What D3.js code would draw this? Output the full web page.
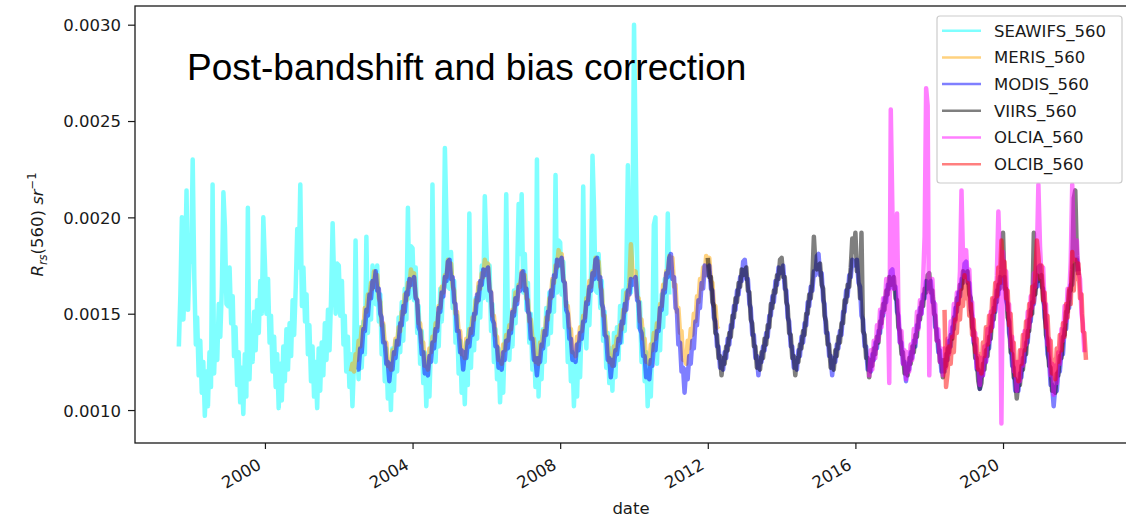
<!DOCTYPE html>
<html>
<head>
<meta charset="utf-8">
<script src="https://cdn.jsdelivr.net/npm/d3@7"></script>
<style>
body { margin: 0; background: #fff; }
svg { display: block; }
.axis text { font-family: "DejaVu Sans", sans-serif; font-size: 16.5px; fill: #1a1a1a; }
.axis line { stroke: #1a1a1a; stroke-width: 1.2; }
</style>
</head>
<body>
<script>
// values are R_rs(560) in units of 1e-5 sr^-1, sampled on the 1st and 16th of each month
const UNIT = 1e-5;

const seriesNames = ["SEAWIFS_560", "MERIS_560", "MODIS_560", "VIIRS_560", "OLCIA_560", "OLCIB_560"];
const seriesColors = ["#00ffff", "#ffa500", "#0000ff", "#000000", "#ff00ff", "#ff0000"];

// first sample of each series: [year, month, half (0 = 1st, 1 = 16th)]
const seawifsStart = [1997, 9, 0];
const merisStart = [2002, 5, 0];
const modisStart = [2002, 7, 0];
const viirsStart = [2012, 1, 0];
const olciaStart = [2016, 5, 1];
const olcibStart = [2018, 6, 0];

const seawifs = [
  133, 160, 200, 147, 171, 214, 152, 178,
  177, 230, 168, 134, 148, 118, 136, 109, 125, 97, 120, 102, 130, 112, 217, 119, 143, 126, 155, 138, 164, 213, 195, 155,
  154, 174, 145, 159, 128, 143, 113, 130, 104, 122, 98, 129, 107, 205, 116, 144, 125, 151, 131, 157, 140, 167, 150, 200,
  176, 150, 168, 135, 149, 120, 138, 112, 129, 101, 124, 105, 133, 115, 142, 121, 145, 128, 157, 139, 164, 194, 174, 217,
  154, 174, 146, 160, 129, 144, 115, 133, 107, 125, 101, 132, 110, 135, 118, 145, 126, 152, 131, 157, 197, 167, 150, 176,
  175, 149, 167, 134, 149, 120, 138, 112, 129, 102, 125, 188, 134, 116, 143, 122, 146, 129, 190, 140, 165, 147, 175, 156,
  155, 175, 146, 160, 129, 144, 115, 132, 106, 124, 100, 132, 110, 136, 120, 148, 130, 156, 136, 163, 147, 205, 158, 185,
  184, 157, 174, 140, 154, 124, 141, 114, 130, 102, 125, 107, 135, 217, 146, 125, 150, 133, 163, 146, 172, 236, 200, 164,
  163, 182, 153, 167, 135, 149, 119, 136, 109, 127, 103, 135, 113, 202, 122, 150, 131, 158, 137, 164, 148, 175, 158, 211,
  184, 157, 175, 141, 155, 125, 142, 116, 132, 104, 127, 109, 137, 212, 147, 126, 150, 133, 162, 145, 171, 207, 181, 212,
  161, 181, 152, 166, 135, 150, 121, 138, 112, 230, 107, 138, 116, 142, 125, 153, 134, 161, 140, 167, 151, 222, 161, 188,
  187, 160, 177, 143, 156, 125, 142, 115, 130, 102, 125, 107, 135, 117, 145, 216, 149, 132, 162, 144, 170, 232, 205, 162,
  161, 181, 153, 167, 136, 151, 122, 140, 114, 132, 110, 140, 117, 143, 126, 154, 135, 162, 141, 168, 227, 178, 161, 188,
  300, 240, 177, 143, 156, 125, 142, 115, 130, 102, 125, 107, 135, 196, 200, 124, 148, 131, 160, 143, 168, 150, 202, 160
];

const meris = [
  120, 124, 120, 129, 126, 136, 133, 143, 142, 153, 151, 160, 158, 166, 163, 172,
  168, 170, 158, 156, 144, 145, 135, 135, 123, 124, 121, 131, 129, 137, 134, 143, 141, 151, 150, 160, 157, 166, 164, 173,
  169, 171, 159, 157, 145, 145, 135, 135, 123, 124, 121, 132, 130, 138, 136, 145, 143, 154, 153, 164, 161, 170, 169, 178,
  174, 176, 164, 162, 150, 151, 141, 141, 129, 130, 127, 137, 135, 142, 140, 148, 147, 157, 156, 166, 163, 171, 169, 178,
  174, 176, 163, 161, 149, 149, 139, 138, 126, 127, 124, 134, 131, 139, 136, 144, 142, 152, 151, 161, 157, 165, 164, 172,
  168, 170, 158, 157, 146, 147, 137, 137, 125, 127, 124, 135, 133, 141, 139, 148, 147, 158, 158, 168, 166, 175, 174, 183,
  179, 181, 168, 166, 154, 154, 143, 142, 130, 131, 128, 138, 136, 143, 141, 149, 148, 158, 157, 167, 164, 172, 170, 179,
  175, 177, 164, 162, 149, 149, 138, 138, 125, 126, 123, 133, 131, 138, 136, 144, 142, 152, 151, 161, 158, 166, 186, 173,
  169, 172, 159, 158, 146, 147, 137, 137, 125, 127, 124, 134, 131, 140, 137, 145, 143, 155, 154, 165, 163, 172, 171, 180,
  174, 179, 164, 165, 151, 153, 140, 141, 126, 128, 124, 136, 132, 142, 139, 150, 146, 159, 156, 168, 163, 174, 170, 180,
  175, 179, 167, 166, 154, 154, 143, 142
];

const modis = [
  121, 121, 132, 130, 142, 141, 152, 149, 160, 158, 167, 164,
  172, 162, 163, 150, 148, 135, 135, 124, 125, 115, 124, 121, 130, 127, 136, 134, 145, 144, 154, 151, 161, 160, 168, 165,
  167, 169, 158, 157, 143, 141, 129, 130, 119, 121, 118, 128, 125, 135, 132, 142, 141, 153, 151, 161, 159, 169, 167, 177,
  178, 168, 169, 156, 155, 141, 141, 130, 131, 121, 130, 127, 136, 133, 142, 139, 150, 150, 160, 157, 167, 165, 173, 170,
  172, 174, 162, 161, 147, 145, 133, 133, 122, 124, 121, 130, 126, 136, 132, 141, 140, 151, 149, 158, 155, 164, 162, 171,
  172, 162, 163, 151, 150, 137, 137, 126, 127, 118, 127, 125, 134, 132, 141, 139, 151, 151, 162, 159, 170, 169, 178, 175,
  177, 179, 167, 166, 152, 150, 137, 137, 126, 128, 125, 134, 131, 140, 137, 146, 146, 156, 155, 164, 162, 171, 168, 178,
  179, 168, 169, 155, 153, 139, 138, 126, 127, 117, 126, 123, 131, 129, 137, 135, 146, 145, 155, 152, 162, 160, 168, 165,
  167, 169, 157, 156, 142, 140, 128, 128, 117, 119, 116, 126, 123, 134, 131, 141, 141, 153, 152, 162, 161, 171, 169, 179,
  181, 168, 169, 153, 152, 134, 135, 120, 122, 109, 121, 116, 128, 124, 136, 132, 146, 144, 157, 153, 166, 163, 175, 170,
  173, 175, 163, 162, 148, 146, 133, 133, 122, 124, 121, 130, 127, 137, 134, 144, 143, 154, 152, 162, 160, 169, 167, 177,
  178, 168, 168, 155, 153, 139, 139, 127, 128, 118, 127, 125, 133, 131, 140, 138, 149, 149, 159, 156, 167, 165, 174, 171,
  173, 175, 163, 162, 148, 146, 133, 133, 122, 124, 121, 131, 128, 138, 135, 145, 144, 156, 154, 164, 162, 172, 170, 180,
  181, 170, 171, 157, 155, 140, 140, 128, 128, 118, 127, 125, 134, 132, 141, 139, 151, 151, 162, 159, 170, 169, 178, 175,
  177, 178, 166, 164, 149, 147, 133, 133, 121, 123, 120, 129, 126, 135, 132, 141, 140, 151, 149, 158, 156, 165, 163, 172,
  173, 163, 164, 151, 149, 135, 135, 124, 125, 115, 124, 121, 130, 127, 136, 133, 144, 143, 153, 150, 160, 158, 167, 163,
  165, 167, 156, 156, 143, 142, 130, 131, 120, 123, 120, 129, 126, 136, 133, 143, 142, 153, 151, 161, 159, 168, 166, 176,
  177, 166, 166, 152, 149, 135, 133, 121, 121, 111, 120, 118, 127, 125, 134, 132, 143, 143, 153, 151, 162, 160, 169, 166,
  168, 169, 157, 154, 140, 136, 123, 122, 110, 112, 110, 119, 117, 127, 125, 135, 135, 147, 146, 156, 155, 165, 164, 174,
  175, 164, 163, 148, 144, 129, 126, 113, 113, 102, 112, 110, 120, 120, 130, 129, 142, 142, 154, 153, 165, 165, 175, 173,
  178, 172
];

const viirs = [
  179, 169, 169, 156, 154, 140, 139, 127, 128, 118, 127, 124, 133, 131, 140, 138, 149, 148, 158, 156, 166, 164, 173, 170,
  172, 174, 162, 161, 147, 145, 133, 133, 122, 124, 121, 130, 127, 137, 134, 144, 143, 155, 153, 162, 161, 170, 168, 178,
  179, 169, 169, 156, 154, 140, 139, 127, 128, 118, 127, 125, 134, 132, 141, 139, 150, 150, 160, 158, 168, 190, 176, 173,
  175, 176, 165, 163, 149, 146, 134, 134, 122, 124, 121, 131, 128, 138, 135, 145, 145, 157, 156, 165, 164, 174, 189, 182,
  192, 172, 172, 158, 192, 141, 139, 127, 127, 117, 126, 123, 132, 129, 138, 135, 146, 145, 155, 152, 162, 160, 169, 165,
  167, 169, 158, 157, 143, 141, 129, 130, 119, 121, 118, 127, 124, 133, 130, 139, 138, 149, 147, 156, 154, 163, 161, 170,
  171, 161, 162, 150, 149, 136, 136, 125, 126, 117, 126, 123, 132, 130, 139, 137, 148, 147, 158, 155, 165, 163, 172, 169,
  171, 172, 160, 158, 143, 141, 127, 127, 115, 111, 114, 124, 121, 131, 128, 138, 137, 149, 147, 157, 156, 165, 163, 173,
  192, 163, 163, 148, 146, 130, 129, 117, 116, 106, 115, 113, 123, 121, 131, 129, 141, 141, 152, 150, 192, 160, 170, 167,
  169, 170, 157, 154, 139, 136, 123, 122, 110, 111, 109, 119, 118, 128, 127, 138, 139, 151, 151, 162, 162, 173, 210, 214,
  180, 170
];

const olcia = [
  117, 131, 121, 136, 127, 144, 136, 152, 143, 158, 151, 168, 160, 114, 256,
  204, 163, 170, 202, 155, 135, 141, 124, 131, 116, 130, 120, 134, 126, 142, 135, 151, 142, 157, 150, 167, 190, 267, 258,
  118, 161, 168, 150, 155, 136, 142, 125, 132, 118, 132, 122, 137, 129, 146, 138, 155, 146, 161, 155, 172, 214, 179, 169,
  183, 167, 173, 153, 156, 136, 140, 122, 128, 113, 127, 118, 133, 125, 142, 135, 151, 143, 158, 152, 170, 203, 177, 93,
  182, 166, 172, 152, 155, 133, 138, 120, 125, 110, 125, 115, 131, 123, 141, 134, 151, 143, 159, 153, 171, 164, 180, 217,
  185, 169, 174, 153, 155, 134, 137, 118, 124, 108, 123, 114, 130, 124, 142, 136, 154, 146, 163, 158, 177, 217, 187, 178,
  188, 172, 168, 150, 145, 130
];

const olcib = [
  152, 112, 119, 133, 124, 138, 130, 147, 140, 155, 147, 162, 154, 170,
  158, 166, 149, 155, 139, 147, 130, 137, 121, 129, 119, 135, 128, 143, 134, 149, 141, 158, 151, 166, 159, 174, 166, 188,
  170, 177, 158, 162, 144, 150, 131, 135, 118, 125, 115, 131, 124, 139, 131, 146, 138, 155, 149, 164, 156, 171, 188, 180,
  168, 175, 157, 161, 143, 149, 131, 136, 119, 126, 116, 132, 125, 139, 131, 145, 138, 155, 148, 163, 155, 182, 162, 178,
  168, 176, 158, 160, 141, 140, 126
];

const xTickYears = [2000, 2004, 2008, 2012, 2016, 2020];
const yTicks = [0.0010, 0.0015, 0.0020, 0.0025, 0.0030];
const titleText = "Post-bandshift and bias correction";

const width = 1126;
const height = 517;
const margin = { top: 6, right: -1, bottom: 74, left: 135 };
const plotRight = width - margin.right;
const plotBottom = height - margin.bottom;

function halfMonthDates(start, n) {
    const [yr, mo, half] = start;
    return d3.range(n).map(i => {
        const k = half + i;
        return new Date(yr, mo - 1 + Math.floor(k / 2), k % 2 ? 16 : 1);
    });
}

function toPoints(start, values) {
    const dates = halfMonthDates(start, values.length);
    return values.map((v, i) => ({ date: dates[i], value: v * UNIT }));
}

function drawChart() {
    const svg = d3.select("body").append("svg")
        .attr("width", width)
        .attr("height", height);

    const x = d3.scaleTime()
        .domain([new Date(1996, 5, 24), new Date(2023, 4, 12)])
        .range([margin.left, plotRight]);

    const y = d3.scaleLinear()
        .domain([0.000829, 0.003097])
        .range([plotBottom, margin.top]);

    svg.append("defs").append("clipPath")
        .attr("id", "plot-clip")
        .append("rect")
        .attr("x", margin.left)
        .attr("y", margin.top)
        .attr("width", plotRight - margin.left)
        .attr("height", plotBottom - margin.top);

    const series = [
        toPoints(seawifsStart, seawifs),
        toPoints(merisStart, meris),
        toPoints(modisStart, modis),
        toPoints(viirsStart, viirs),
        toPoints(olciaStart, olcia),
        toPoints(olcibStart, olcib)
    ];

    const line = d3.line()
        .x(d => x(d.date))
        .y(d => y(d.value));

    svg.append("g")
        .attr("clip-path", "url(#plot-clip)")
        .selectAll("path")
        .data(series)
        .enter()
        .append("path")
        .attr("d", line)
        .attr("fill", "none")
        .attr("stroke", (d, i) => seriesColors[i])
        .attr("stroke-opacity", 0.5)
        .attr("stroke-width", 4.5)
        .attr("stroke-linejoin", "round");

    // axes
    const xAxis = d3.axisBottom(x)
        .tickValues(xTickYears.map(yr => new Date(yr, 0, 1)))
        .tickSize(6)
        .tickFormat(d3.timeFormat("%Y"));

    const gx = svg.append("g")
        .attr("class", "axis")
        .attr("transform", "translate(0," + plotBottom + ")")
        .call(xAxis);
    gx.select(".domain").remove();
    gx.selectAll("text")
        .attr("x", 0)
        .attr("y", 0)
        .attr("dy", 0)
        .attr("text-anchor", "end")
        .attr("transform", "translate(-3,25) rotate(-30)");

    const yAxis = d3.axisLeft(y)
        .tickValues(yTicks)
        .tickSize(7)
        .tickFormat(d3.format(".4f"));

    const gy = svg.append("g")
        .attr("class", "axis")
        .attr("transform", "translate(" + margin.left + ",0)")
        .call(yAxis);
    gy.select(".domain").remove();
    gy.selectAll("text").attr("x", -14).attr("dy", "0.36em");

    // frame
    svg.append("rect")
        .attr("x", margin.left)
        .attr("y", margin.top)
        .attr("width", plotRight - margin.left)
        .attr("height", plotBottom - margin.top)
        .attr("fill", "none")
        .attr("stroke", "#1a1a1a")
        .attr("stroke-width", 1.3);

    // axis labels
    svg.append("text")
        .attr("x", (margin.left + plotRight) / 2)
        .attr("y", 514)
        .attr("text-anchor", "middle")
        .style("font-family", "DejaVu Sans, sans-serif")
        .style("font-size", "16.5px")
        .style("fill", "#1a1a1a")
        .text("date");

    const yLabel = svg.append("text")
        .attr("transform", "translate(43," + (margin.top + plotBottom) / 2 + ") rotate(-90)")
        .attr("text-anchor", "middle")
        .style("font-family", "DejaVu Sans, sans-serif")
        .style("font-size", "16.5px")
        .style("fill", "#1a1a1a");
    yLabel.append("tspan").style("font-style", "italic").text("R");
    yLabel.append("tspan").style("font-style", "italic").style("font-size", "11.5px")
        .attr("dy", 4).text("rs");
    yLabel.append("tspan").attr("dy", -4).text("(560) ");
    yLabel.append("tspan").style("font-style", "italic").text("sr");
    yLabel.append("tspan").style("font-size", "11.5px").attr("dy", -7).text("\u22121");

    // title inside the axes
    svg.append("text")
        .attr("x", 187)
        .attr("y", 80)
        .style("font-family", "Liberation Sans, Arial, sans-serif")
        .style("font-size", "37px")
        .style("fill", "#000")
        .text(titleText);

    // legend
    const legend = svg.append("g").attr("id", "legend");
    legend.append("rect")
        .attr("x", 937)
        .attr("y", 16)
        .attr("width", 185)
        .attr("height", 167)
        .attr("rx", 3)
        .attr("fill", "#fff")
        .attr("fill-opacity", 0.8)
        .attr("stroke", "#cccccc")
        .attr("stroke-width", 1.2);

    const items = legend.selectAll(".legend-item")
        .data(seriesNames)
        .enter()
        .append("g")
        .attr("class", "legend-item")
        .attr("transform", (d, i) => "translate(0," + (30.7 + i * 26.7) + ")");

    items.append("line")
        .attr("x1", 942)
        .attr("x2", 981)
        .attr("stroke", (d, i) => seriesColors[i])
        .attr("stroke-opacity", 0.5)
        .attr("stroke-width", 2.5);

    items.append("text")
        .attr("x", 994)
        .attr("dy", "0.36em")
        .style("font-family", "DejaVu Sans, sans-serif")
        .style("font-size", "16.5px")
        .style("fill", "#1a1a1a")
        .text(d => d);
}

document.addEventListener("DOMContentLoaded", () => drawChart());
</script>
</body>
</html>
